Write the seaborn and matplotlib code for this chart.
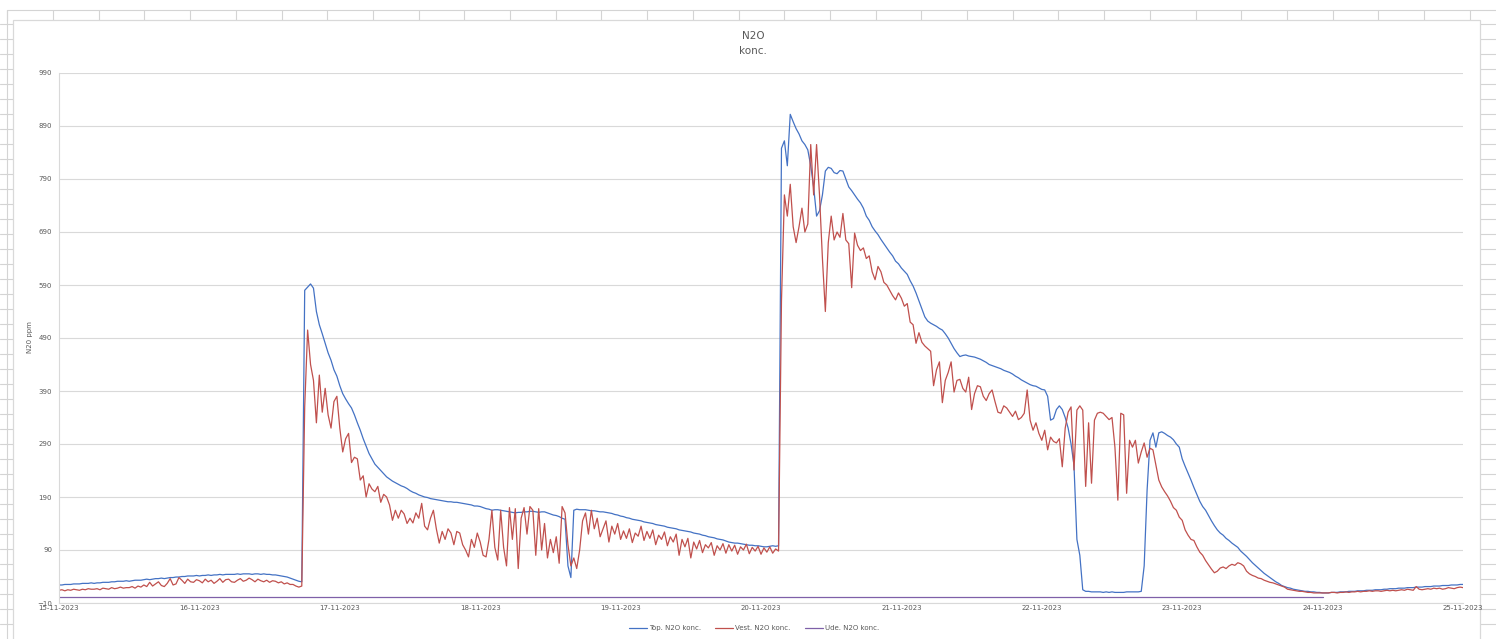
import pandas as pd
import matplotlib
matplotlib.use("Agg")
import matplotlib.pyplot as plt
import matplotlib.dates as mdates
from matplotlib.lines import Line2D
from matplotlib.patches import Rectangle
import seaborn as sns

# ==================== DATA ====================
# readings every 30 min, 15-11-2023 00:00 -> 25-11-2023 00:00
start_time = "2023-11-15 00:00"

top_vals = [
    24, 24, 25, 25, 25, 26, 26, 26, 27, 27, 27, 28,            # h0
    27, 28, 28, 29, 29, 29, 30, 30, 31, 31, 31, 32,            # h6
    31, 32, 33, 33, 33, 34, 35, 34, 35, 36, 36, 37,            # h12
    36, 37, 38, 38, 39, 39, 40, 40, 41, 41, 41, 42,            # h18
    41, 42, 42, 43, 42, 43, 43, 44, 43, 44, 44, 44,            # h24
    44, 45, 44, 45, 45, 45, 44, 45, 45, 44, 45, 44,            # h30
    44, 43, 43, 42, 41, 40, 39, 37, 35, 33, 31, 30,            # h36
    580, 586, 592, 584, 540, 515, 498, 480, 462, 448, 430, 418,  # h42
    400, 385, 375, 366, 358, 345, 330, 316, 300, 286, 272, 262,  # h48
    252, 246, 240, 234, 228, 224, 220, 217, 214, 211, 209, 206,  # h54
    202, 199, 197, 194, 192, 190, 189, 187, 186, 185, 184, 183,  # h60
    182, 181, 181, 180, 180, 179, 178, 177, 176, 175, 173, 173,  # h66
    172, 170, 168, 167, 165, 166, 166, 165, 164, 163, 162, 161,  # h72
    160, 161, 161, 162, 162, 163, 163, 162, 161, 162, 162, 160,  # h78
    158, 156, 155, 153, 150, 148, 60, 38, 165, 167, 166, 166,    # h84
    166, 165, 164, 164, 163, 162, 162, 161, 160, 159, 157, 156,  # h90
    154, 153, 151, 150, 148, 147, 146, 145, 143, 142, 141, 140,  # h96
    138, 137, 136, 135, 133, 132, 131, 130, 128, 127, 126, 125,  # h102
    124, 122, 121, 120, 118, 117, 115, 114, 113, 111, 110, 109,  # h108
    107, 105, 104, 103, 103, 102, 101, 100, 99, 99, 98, 98,      # h114
    97, 96, 96, 97, 98, 97, 98, 848, 862, 815, 912, 898,         # h120
    885, 875, 862, 855, 845, 815, 775, 720, 730, 760, 805, 812,  # h126
    810, 802, 800, 806, 805, 790, 775, 768, 760, 752, 745, 735,  # h132
    720, 712, 700, 692, 685, 676, 668, 660, 652, 645, 635, 630,  # h138
    622, 616, 610, 598, 588, 575, 560, 545, 530, 522, 518, 515,  # h144
    512, 508, 505, 498, 490, 480, 470, 462, 455, 457, 458, 456,  # h150
    455, 454, 452, 450, 447, 444, 440, 438, 436, 434, 432, 429,  # h156
    427, 425, 422, 418, 415, 411, 408, 405, 402, 400, 399, 396,  # h162
    393, 392, 380, 335, 338, 355, 362, 355, 340, 320, 290, 250,  # h168
    110, 80, 15, 12, 12, 11, 11, 11, 11, 10, 11, 10,             # h174
    11, 10, 10, 10, 10, 11, 11, 11, 11, 11, 12, 60,              # h180
    203, 297, 311, 284, 311, 313, 310, 306, 303, 298, 290, 284,  # h186
    262, 248, 235, 222, 208, 195, 182, 172, 165, 155, 145, 136,  # h192
    128, 122, 118, 112, 108, 103, 99, 95, 88, 83, 78, 72,        # h198
    66, 61, 56, 51, 46, 42, 38, 34, 30, 27, 23, 21,              # h204
    19, 18, 16, 15, 14, 13, 12, 12, 11, 11, 10, 10,              # h210
    9, 9, 9, 10, 10, 10, 11, 11, 11, 12, 12, 12,                 # h216
    13, 13, 13, 14, 14, 14, 15, 15, 15, 16, 16, 17,              # h222
    17, 17, 18, 18, 18, 19, 19, 19, 20, 20, 20, 21,              # h228
    21, 21, 22, 22, 22, 23, 23, 23, 24, 24, 24, 25,              # h234
    25,                                                          # h240
]

vest_vals = [
    14, 15, 13, 15, 14, 16, 15, 14, 16, 15, 17, 16,              # h0
    16, 17, 15, 18, 17, 16, 19, 17, 18, 20, 18, 19,              # h6
    19, 21, 18, 22, 20, 24, 21, 29, 22, 26, 30, 23,              # h12
    21, 27, 36, 24, 26, 38, 33, 27, 35, 30, 29, 34,              # h18
    32, 28, 35, 30, 33, 27, 31, 36, 29, 34, 35, 30,              # h24
    29, 33, 36, 31, 33, 37, 34, 30, 35, 32, 30, 33,              # h30
    29, 32, 31, 28, 30, 26, 28, 25, 25, 22, 20, 22,              # h36
    360, 505, 440, 410, 330, 420, 350, 395, 345, 320, 370, 380,  # h42
    320, 275, 300, 310, 255, 265, 262, 222, 230, 190, 215, 205,  # h48
    200, 210, 180, 195, 190, 175, 146, 165, 150, 165, 158, 140,  # h54
    150, 141, 160, 150, 178, 135, 128, 150, 165, 130, 103, 125,  # h60
    110, 130, 122, 100, 125, 122, 100, 90, 77, 110, 95, 122,     # h66
    105, 80, 77, 110, 165, 95, 71, 165, 95, 60, 170, 110,        # h72
    168, 55, 150, 170, 120, 172, 165, 80, 168, 90, 140, 75,      # h78
    110, 85, 115, 65, 172, 160, 100, 60, 75, 55, 90, 145,        # h84
    160, 120, 165, 130, 150, 115, 130, 145, 105, 135, 120, 140,  # h90
    110, 126, 112, 130, 104, 122, 116, 135, 108, 125, 112, 128,  # h96
    100, 118, 110, 124, 98, 115, 105, 120, 80, 110, 96, 112,     # h102
    75, 105, 92, 108, 85, 100, 94, 104, 80, 98, 90, 102,         # h108
    84, 100, 88, 99, 82, 96, 90, 101, 83, 95, 88, 97,            # h114
    82, 94, 86, 96, 84, 92, 88, 560, 760, 720, 780, 700,         # h120
    670, 700, 735, 690, 705, 855, 760, 855, 760, 640, 540, 670,  # h126
    720, 675, 690, 680, 725, 675, 668, 585, 688, 665, 655, 660,  # h132
    640, 645, 615, 600, 625, 615, 595, 590, 580, 570, 562, 575,  # h138
    565, 550, 555, 520, 515, 480, 500, 482, 475, 470, 465, 400,  # h144
    430, 445, 368, 410, 425, 445, 388, 410, 412, 395, 388, 416,  # h150
    355, 385, 400, 398, 380, 372, 385, 392, 370, 350, 348, 362,  # h156
    358, 350, 342, 352, 336, 340, 348, 392, 335, 316, 330, 310,  # h162
    297, 316, 279, 303, 295, 292, 300, 247, 320, 350, 360, 241,  # h168
    354, 362, 354, 210, 330, 216, 335, 348, 350, 348, 342, 336,  # h174
    340, 284, 184, 348, 345, 197, 297, 284, 297, 254, 275, 292,  # h180
    265, 282, 279, 250, 222, 209, 200, 192, 182, 170, 165, 152,  # h186
    146, 128, 118, 110, 108, 96, 86, 80, 70, 62, 54, 47,         # h192
    50, 56, 58, 55, 60, 63, 61, 66, 64, 60, 50, 45,              # h198
    42, 40, 37, 36, 33, 31, 29, 28, 26, 24, 22, 20,              # h204
    16, 15, 14, 13, 12, 12, 11, 10, 10, 9, 9, 9,                 # h210
    9, 9, 9, 10, 10, 9, 10, 10, 11, 10, 11, 11,                  # h216
    12, 11, 12, 12, 13, 12, 13, 13, 12, 13, 14, 13,              # h222
    14, 13, 14, 15, 14, 16, 15, 14, 21, 16, 15, 16,              # h228
    17, 16, 18, 17, 18, 16, 17, 19, 18, 17, 19, 20,              # h234
    19,                                                          # h240
]

# outdoor sensor, one value per day until 24-11
ude_days = ["2023-11-15", "2023-11-16", "2023-11-17", "2023-11-18", "2023-11-19",
            "2023-11-20", "2023-11-21", "2023-11-22", "2023-11-23", "2023-11-24"]
ude_vals = [1, 1, 1, 1, 1, 1, 1, 1, 1, 1]

series_names = ["Top. N2O konc.", "Vest. N2O konc.", "Ude. N2O konc."]
series_colors = ["#4472C4", "#C0504D", "#7F60A8"]
y_ticks = [-10, 90, 190, 290, 390, 490, 590, 690, 790, 890, 990]
x_days = ["2023-11-15", "2023-11-16", "2023-11-17", "2023-11-18", "2023-11-19", "2023-11-20",
          "2023-11-21", "2023-11-22", "2023-11-23", "2023-11-24", "2023-11-25"]
# ==============================================

top_df = pd.DataFrame({"time": pd.date_range(start_time, periods=len(top_vals), freq="30min"),
                       "ppm": top_vals, "serie": series_names[0]})
vest_df = pd.DataFrame({"time": pd.date_range(start_time, periods=len(vest_vals), freq="30min"),
                        "ppm": vest_vals, "serie": series_names[1]})
ude_df = pd.DataFrame({"time": pd.to_datetime(ude_days), "ppm": ude_vals, "serie": series_names[2]})
df = pd.concat([top_df, vest_df, ude_df], ignore_index=True)

sns.set_style("white")
plt.rcParams["font.family"] = ["DejaVu Sans"]
text_col = "#595959"
grid_col = "#d9d9d9"
cell_col = "#d4d4d4"

W, H = 1496, 639
fig = plt.figure(figsize=(W / 100, H / 100), dpi=100)

# spreadsheet cells behind the chart object
def fline(x0, y0, x1, y1, **kw):
    fig.add_artist(Line2D([x0 / W, x1 / W], [1 - y0 / H, 1 - y1 / H], transform=fig.transFigure,
                          color=cell_col, lw=0.8, zorder=-3, **kw))

fline(7.3, 10, W, 10)
fline(7.3, 10, 7.3, H)
cx = 7.3
while cx < W:
    fline(cx, 10, cx, 20)
    cx += 45.7
ry = 24.3
while ry < H:
    fline(0, ry, 13, ry)
    fline(1480, ry, W, ry)
    ry += 15
fig.add_artist(Rectangle((12.7 / W, -0.01), (1480 - 12.7) / W, 1 - 19.7 / H + 0.01,
                         transform=fig.transFigure, facecolor="white", edgecolor=grid_col,
                         lw=0.9, zorder=-2))

ax = fig.add_axes([59 / W, 1 - 603 / H, (1463 - 59) / W, (603 - 73) / H])
ax.patch.set_alpha(0)
sns.lineplot(data=df, x="time", y="ppm", hue="serie", hue_order=series_names,
             palette=dict(zip(series_names, series_colors)), estimator=None, sort=False,
             linewidth=0.9, ax=ax)

ax.set_ylim(-10, 990)
ax.set_yticks(y_ticks)
ax.set_xlim(pd.Timestamp(x_days[0]), pd.Timestamp(x_days[-1]))
ax.set_xticks(pd.to_datetime(x_days))
ax.xaxis.set_major_formatter(mdates.DateFormatter("%d-%m-%Y"))
ax.yaxis.grid(True, color=grid_col, lw=0.8)
ax.xaxis.grid(False)
for side in ["top", "right"]:
    ax.spines[side].set_visible(False)
ax.spines["left"].set_color(grid_col)
ax.spines["bottom"].set_color(grid_col)
ax.tick_params(axis="both", length=0, labelsize=5, colors=text_col)
ax.tick_params(axis="y", pad=5)
ax.tick_params(axis="x", pad=1.5)
ax.set_xlabel("")
ax.set_ylabel("")

fig.text(30 / W, 1 - 337 / H, "N20 ppm", rotation=90, ha="center", va="center",
         fontsize=5, color=text_col)
fig.text(753 / W, 1 - 36 / H, "N2O", ha="center", va="center", fontsize=7.5, color=text_col)
fig.text(753 / W, 1 - 51 / H, "konc.", ha="center", va="center", fontsize=7.5, color=text_col)

handles, labels = ax.get_legend_handles_labels()
ax.get_legend().remove()
fig.legend(handles, labels, loc="center", bbox_to_anchor=(754 / W, 1 - 628 / H), ncol=3,
           frameon=False, fontsize=5, labelcolor=text_col, handlelength=2.6,
           handletextpad=0.3, columnspacing=2.0)

fig.savefig("out.png", dpi=100)
